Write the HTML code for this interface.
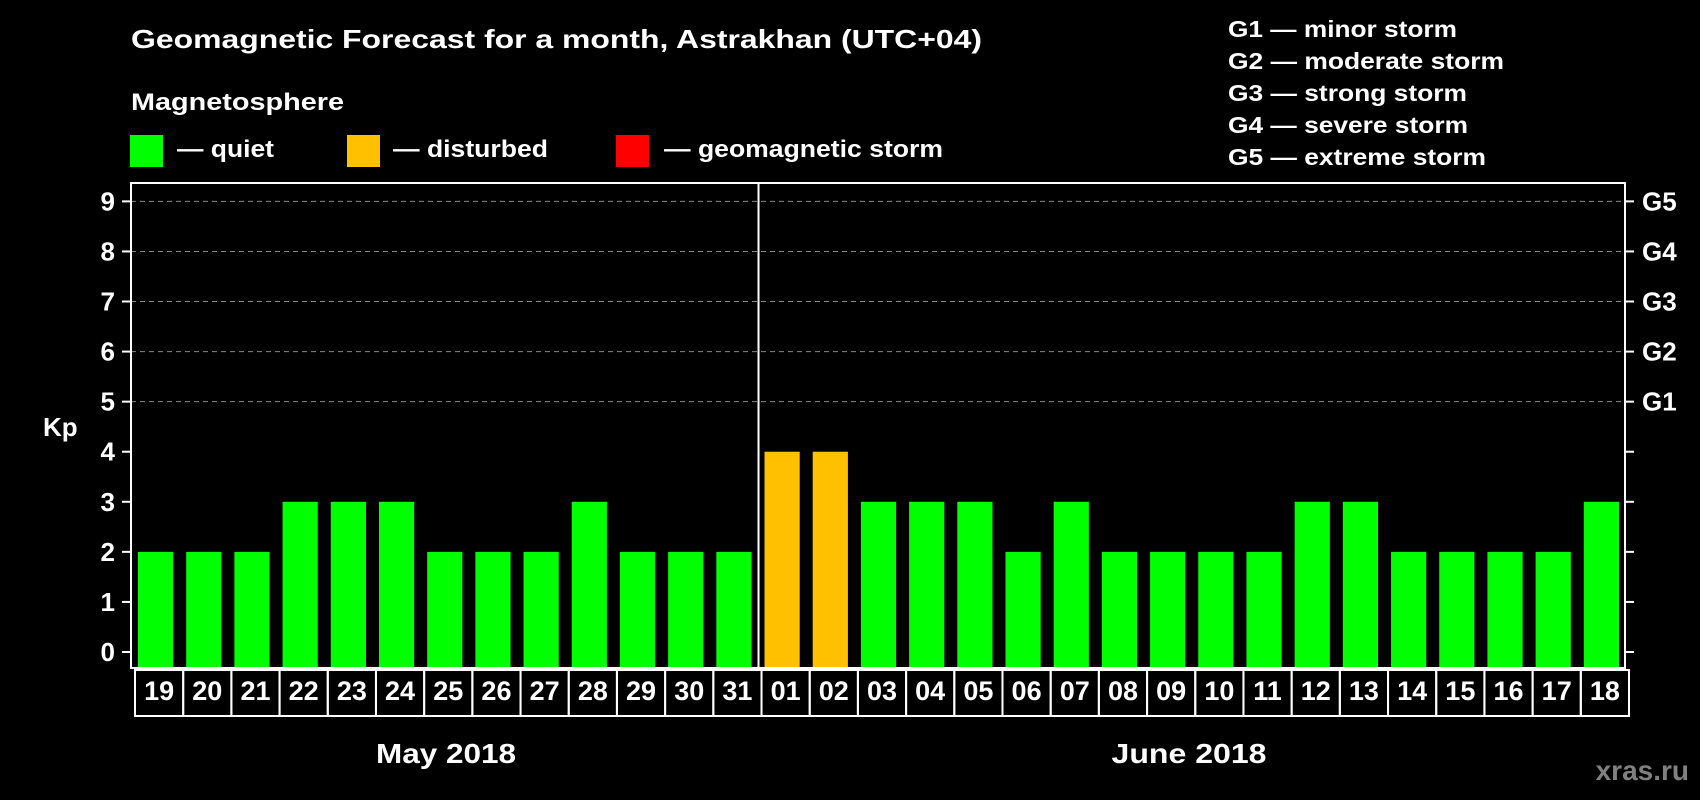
<!DOCTYPE html>
<html><head><meta charset="utf-8"><style>
html,body{margin:0;padding:0;background:#000;}
svg{display:block;font-family:"Liberation Sans",Arial,sans-serif;font-weight:bold;}
</style></head><body>
<svg id="chart" width="1700" height="800" viewBox="0 0 1700 800" xmlns="http://www.w3.org/2000/svg">
<rect x="0" y="0" width="1700" height="800" fill="#000"/>
<text x="131" y="48" fill="#fff" font-size="26" textLength="851" lengthAdjust="spacingAndGlyphs">Geomagnetic Forecast for a month, Astrakhan (UTC+04)</text>
<text x="131" y="110" fill="#fff" font-size="24" textLength="213" lengthAdjust="spacingAndGlyphs">Magnetosphere</text>
<g>
<rect x="130" y="135" width="33" height="32" fill="#00ff00"/>
<text x="177" y="157" fill="#fff" font-size="24" textLength="97" lengthAdjust="spacingAndGlyphs">— quiet</text>
</g>
<g>
<rect x="347" y="135" width="33" height="32" fill="#ffc000"/>
<text x="393" y="157" fill="#fff" font-size="24" textLength="155" lengthAdjust="spacingAndGlyphs">— disturbed</text>
</g>
<g>
<rect x="616" y="135" width="33" height="32" fill="#ff0000"/>
<text x="664" y="157" fill="#fff" font-size="24" textLength="279" lengthAdjust="spacingAndGlyphs">— geomagnetic storm</text>
</g>
<g font-size="23" fill="#fff">
<text x="1228" y="37" textLength="229" lengthAdjust="spacingAndGlyphs">G1 — minor storm</text>
<text x="1228" y="69" textLength="276" lengthAdjust="spacingAndGlyphs">G2 — moderate storm</text>
<text x="1228" y="101" textLength="239" lengthAdjust="spacingAndGlyphs">G3 — strong storm</text>
<text x="1228" y="133" textLength="240" lengthAdjust="spacingAndGlyphs">G4 — severe storm</text>
<text x="1228" y="165" textLength="258" lengthAdjust="spacingAndGlyphs">G5 — extreme storm</text>
</g>
<text x="43" y="436" fill="#fff" font-size="26">Kp</text>
<g id="plot"></g>
<text x="446" y="763" fill="#fff" font-size="28" text-anchor="middle" textLength="140" lengthAdjust="spacingAndGlyphs">May 2018</text>
<text x="1189" y="763" fill="#fff" font-size="28" text-anchor="middle" textLength="155" lengthAdjust="spacingAndGlyphs">June 2018</text>
<text x="1689" y="780" fill="#808080" font-size="28" text-anchor="end">xras.ru</text>
</svg>
<script>
const days = ["19","20","21","22","23","24","25","26","27","28","29","30","31","01","02","03","04","05","06","07","08","09","10","11","12","13","14","15","16","17","18"];
const kpValues = [2,2,2,3,3,3,2,2,2,3,2,2,2,4,4,3,3,3,2,3,2,2,2,2,3,3,2,2,2,2,3];
const yTicks = [0,1,2,3,4,5,6,7,8,9];
const gLabels = ["","","","","","G1","G2","G3","G4","G5"];
const monthSplitIndex = 13;

const NS = "http://www.w3.org/2000/svg";
const plot = document.getElementById("plot");
const L = 131, R = 1625, T = 183, B = 668;
const y0 = 652, unit = 50.07;
const step = (R - L) / days.length;
function yScale(v){ return y0 - v * unit; }
function xScale(i){ return L + i * step; }
function mk(tag, attrs){ const e = document.createElementNS(NS, tag); for (const k in attrs) e.setAttribute(k, attrs[k]); plot.appendChild(e); return e; }
function colorFor(v){ return v >= 5 ? "#ff0000" : (v >= 4 ? "#ffc000" : "#00ff00"); }

yTicks.forEach((v, i) => {
  const y = yScale(v);
  if (v >= 5) {
    const g = mk("line", {x1: L, x2: R, y1: y, y2: y, stroke: "#888", "stroke-width": 1, "stroke-dasharray": "5,4"});
    
    
  }
  const tl = mk("line", {x1: L - 9, x2: L, y1: y, y2: y, stroke: "#fff", "stroke-width": 2});
  
  
  const tr = mk("line", {x1: R, x2: R + 9, y1: y, y2: y, stroke: "#fff", "stroke-width": 2});
  
  
  const t = mk("text", {x: 115, y: y + 9, fill: "#fff", "font-size": 26, "text-anchor": "end"});
  t.textContent = String(v);
  
  
  if (gLabels[i]) {
    const g = mk("text", {x: 1642, y: y + 9, fill: "#fff", "font-size": 26});
    g.textContent = gLabels[i];
    
    
  }
});

kpValues.forEach((v, i) => {
  const x = xScale(i);
  const top = yScale(v);
  const bar = mk("rect", {x: x + 7, y: top, width: step - 13, height: B - top, fill: colorFor(v)});
  
  
  const box = mk("rect", {x: x + 4, y: 670, width: step, height: 46, fill: "none", stroke: "#fff", "stroke-width": 2});
  
  
  const t = mk("text", {x: x + 4 + step / 2, y: 700, fill: "#fff", "font-size": 27, "text-anchor": "middle"});
  t.textContent = days[i];
  
  
});

const frame = mk("rect", {x: L, y: T, width: R - L, height: B - T, fill: "none", stroke: "#fff", "stroke-width": 2});


const sx = xScale(monthSplitIndex) + 1;
const div = mk("line", {x1: sx, x2: sx, y1: T, y2: B, stroke: "#fff", "stroke-width": 2});


</script>
</body></html>
